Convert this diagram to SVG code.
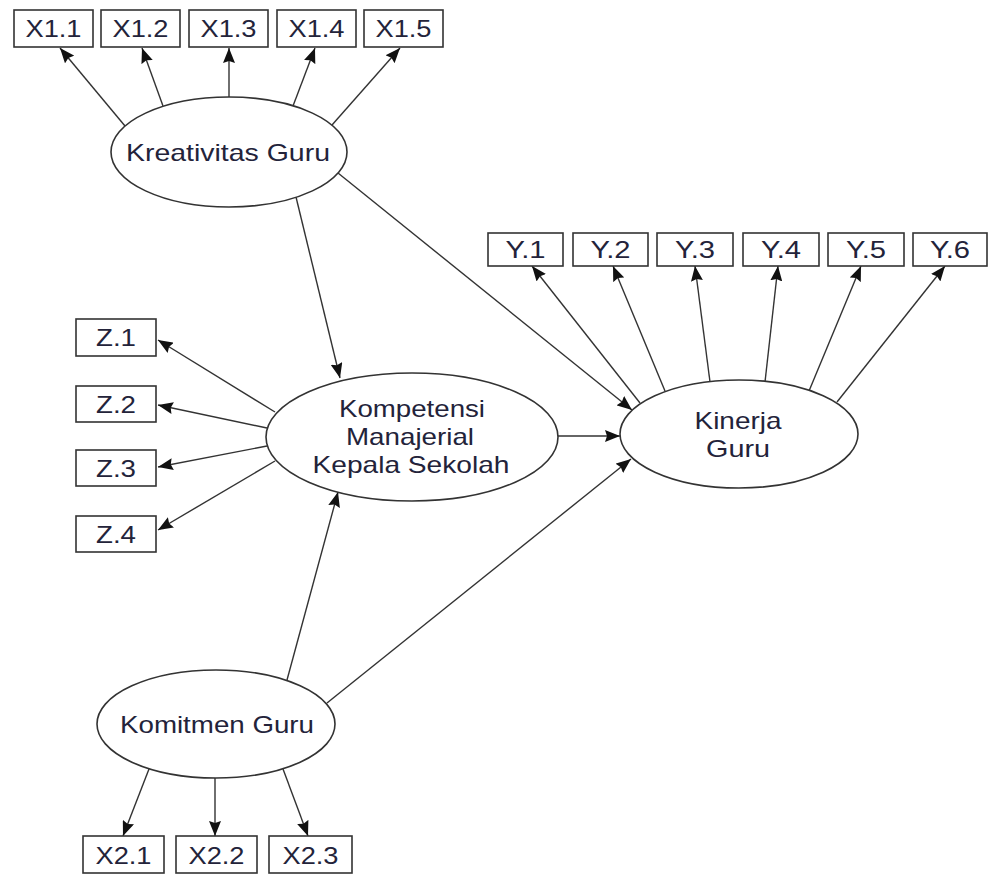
<svg xmlns="http://www.w3.org/2000/svg" width="990" height="876" viewBox="0 0 990 876">
<style>
.box{fill:#fff;stroke:#333;stroke-width:1.6}
.ell{fill:#fff;stroke:#333;stroke-width:1.6}
.t{font-family:"Liberation Sans",Arial,sans-serif;font-size:23px;fill:#23233a;text-anchor:middle}
.e{font-size:24px}
.c line{stroke:#333;stroke-width:1.4;marker-end:url(#ah)}
</style>
<defs>
<marker id="ah" viewBox="0 0 15 12" refX="15" refY="6" markerWidth="15" markerHeight="12" markerUnits="userSpaceOnUse" orient="auto">
<path d="M0,0 L15,6 L0,12 L2,6 z" fill="#111"/>
</marker>
</defs>
<rect width="990" height="876" fill="#fff"/>
<g class="c" id="connectors">
<line x1="125" y1="126" x2="60" y2="48"/>
<line x1="163" y1="106" x2="142" y2="48"/>
<line x1="229" y1="97" x2="229" y2="48"/>
<line x1="293" y1="106" x2="315" y2="48"/>
<line x1="332" y1="125" x2="400" y2="48"/>
<line x1="296" y1="197" x2="340" y2="378"/>
<line x1="338" y1="173" x2="632" y2="410"/>
<line x1="558" y1="436" x2="620" y2="436"/>
<line x1="327" y1="703" x2="631" y2="459"/>
<line x1="287" y1="680" x2="338" y2="492"/>
<line x1="149" y1="769" x2="123" y2="836"/>
<line x1="215" y1="778" x2="215" y2="836"/>
<line x1="283" y1="769" x2="308" y2="836"/>
<line x1="275" y1="412" x2="158" y2="340"/>
<line x1="267" y1="428" x2="158" y2="405"/>
<line x1="267" y1="446" x2="158" y2="467"/>
<line x1="275" y1="461" x2="158" y2="530"/>
<line x1="640" y1="403" x2="532" y2="266"/>
<line x1="665" y1="391" x2="613" y2="266"/>
<line x1="710" y1="382" x2="695" y2="266"/>
<line x1="765" y1="382" x2="778" y2="266"/>
<line x1="809" y1="391" x2="861" y2="266"/>
<line x1="837" y1="402" x2="945" y2="266"/>
</g>
<g id="X1.1"><rect class="box" x="14" y="10" width="79" height="37"/><text class="t" x="53.5" y="37" textLength="56" lengthAdjust="spacingAndGlyphs">X1.1</text></g>
<g id="X1.2"><rect class="box" x="101" y="10" width="79" height="37"/><text class="t" x="140.5" y="37" textLength="56" lengthAdjust="spacingAndGlyphs">X1.2</text></g>
<g id="X1.3"><rect class="box" x="189" y="10" width="79" height="37"/><text class="t" x="228.5" y="37" textLength="56" lengthAdjust="spacingAndGlyphs">X1.3</text></g>
<g id="X1.4"><rect class="box" x="277" y="10" width="79" height="37"/><text class="t" x="316.5" y="37" textLength="56" lengthAdjust="spacingAndGlyphs">X1.4</text></g>
<g id="X1.5"><rect class="box" x="364" y="10" width="79" height="37"/><text class="t" x="403.5" y="37" textLength="56" lengthAdjust="spacingAndGlyphs">X1.5</text></g>
<g id="Y.1"><rect class="box" x="488" y="233" width="75" height="33"/><text class="t" x="525.5" y="258" textLength="40" lengthAdjust="spacingAndGlyphs">Y.1</text></g>
<g id="Y.2"><rect class="box" x="573" y="233" width="75" height="33"/><text class="t" x="610.5" y="258" textLength="40" lengthAdjust="spacingAndGlyphs">Y.2</text></g>
<g id="Y.3"><rect class="box" x="657" y="233" width="76" height="33"/><text class="t" x="695" y="258" textLength="40" lengthAdjust="spacingAndGlyphs">Y.3</text></g>
<g id="Y.4"><rect class="box" x="743" y="233" width="76" height="33"/><text class="t" x="781" y="258" textLength="40" lengthAdjust="spacingAndGlyphs">Y.4</text></g>
<g id="Y.5"><rect class="box" x="828" y="233" width="76" height="33"/><text class="t" x="866" y="258" textLength="40" lengthAdjust="spacingAndGlyphs">Y.5</text></g>
<g id="Y.6"><rect class="box" x="913" y="233" width="74" height="33"/><text class="t" x="950" y="258" textLength="40" lengthAdjust="spacingAndGlyphs">Y.6</text></g>
<g id="Z.1"><rect class="box" x="76" y="319" width="80" height="37"/><text class="t" x="116" y="346" textLength="40" lengthAdjust="spacingAndGlyphs">Z.1</text></g>
<g id="Z.2"><rect class="box" x="76" y="386" width="80" height="36"/><text class="t" x="116" y="413" textLength="40" lengthAdjust="spacingAndGlyphs">Z.2</text></g>
<g id="Z.3"><rect class="box" x="76" y="450" width="80" height="36"/><text class="t" x="116" y="477" textLength="40" lengthAdjust="spacingAndGlyphs">Z.3</text></g>
<g id="Z.4"><rect class="box" x="76" y="516" width="80" height="36"/><text class="t" x="116" y="543" textLength="40" lengthAdjust="spacingAndGlyphs">Z.4</text></g>
<g id="X2.1"><rect class="box" x="83" y="836" width="81" height="37"/><text class="t" x="123.5" y="864" textLength="56" lengthAdjust="spacingAndGlyphs">X2.1</text></g>
<g id="X2.2"><rect class="box" x="176" y="836" width="81" height="37"/><text class="t" x="216.5" y="864" textLength="56" lengthAdjust="spacingAndGlyphs">X2.2</text></g>
<g id="X2.3"><rect class="box" x="269" y="836" width="83" height="37"/><text class="t" x="310.5" y="864" textLength="56" lengthAdjust="spacingAndGlyphs">X2.3</text></g>
<g id="KreativitasGuru"><ellipse class="ell" cx="229" cy="152" rx="118" ry="55"/><text class="t e" x="228" y="161" textLength="204" lengthAdjust="spacingAndGlyphs">Kreativitas Guru</text></g>
<g id="KompetensiManajerial"><ellipse class="ell" cx="412" cy="437" rx="146" ry="64"/>
<text class="t e" x="412" y="417" textLength="146" lengthAdjust="spacingAndGlyphs">Kompetensi</text>
<text class="t e" x="410" y="445" textLength="128" lengthAdjust="spacingAndGlyphs">Manajerial</text>
<text class="t e" x="411" y="473" textLength="197" lengthAdjust="spacingAndGlyphs">Kepala Sekolah</text></g>
<g id="KinerjaGuru"><ellipse class="ell" cx="739" cy="434" rx="119" ry="54"/>
<text class="t e" x="738" y="429" textLength="87" lengthAdjust="spacingAndGlyphs">Kinerja</text>
<text class="t e" x="738" y="457" textLength="64" lengthAdjust="spacingAndGlyphs">Guru</text></g>
<g id="KomitmenGuru"><ellipse class="ell" cx="216" cy="724" rx="119" ry="54"/><text class="t e" x="217" y="733" textLength="194" lengthAdjust="spacingAndGlyphs">Komitmen Guru</text></g>
</svg>
